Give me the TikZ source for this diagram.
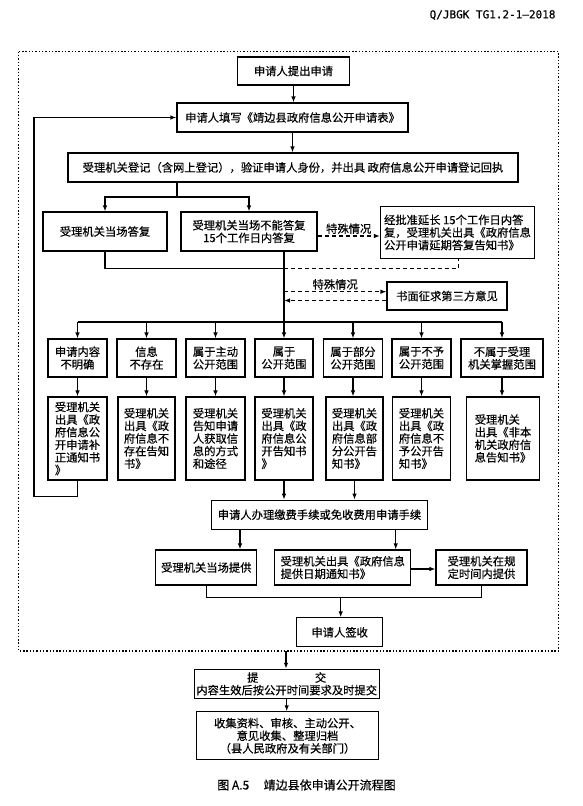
\documentclass[tikz,border=0pt]{standalone}
\usepackage{fontspec}
\setmainfont{Noto Sans CJK SC}
\newfontfamily\cjkb{Noto Sans CJK SC}[FakeBold=0.4]
\newfontfamily\hdrfont{DejaVu Sans Mono}[FakeBold=0.5]
\usetikzlibrary{arrows.meta}
\newcommand{\boxfont}{\cjkb\fontsize{11.3}{12.6}\selectfont}
\tikzset{
  bx/.style={draw,line width=1.1pt,inner sep=2pt,align=center,font=\boxfont},
  lbx/.style={bx,align=left},
  ln/.style={line width=1.1pt},
  dsh/.style={line width=1.1pt,dash pattern=on 4pt off 3pt},
  frm/.style={line width=1.4pt,dash pattern=on 1.4pt off 1.9pt},
  lbl/.style={font=\boxfont,inner sep=1.5pt}
}

\begin{document}
\begin{tikzpicture}[x=1pt,y=-1pt,>={Latex[length=6pt,width=4.5pt]}]
\useasboundingbox (0,0) rectangle (582,806);
\node[anchor=east,font=\hdrfont\fontsize{11}{13}\selectfont] (hdr) at (559,15) {Q/JBGK TG1.2-1—2018};
\coordinate (fr1) at (18.6,51.7);
\coordinate (fr2) at (558.6,651);
\draw[frm] (fr1) rectangle (fr2);
\node[bx,minimum width=112pt,minimum height=28pt] (apply) at (293.5,71) {申请人提出申请};
\node[bx,minimum width=231pt,minimum height=29pt] (form) at (292.5,117.5) {申请人填写《靖边县政府信息公开申请表》};
\node[bx,minimum width=450pt,minimum height=29pt] (reg) at (293,167.5) {受理机关登记（含网上登记），验证申请人身份，并出具 政府信息公开申请登记回执};
\node[bx,minimum width=124pt,minimum height=39pt] (now) at (105,231.5) {受理机关当场答复};
\node[bx,minimum width=136pt,minimum height=39pt] (later) at (249,231.5) {受理机关当场不能答复\\15个工作日内答复};
\node[lbx,minimum width=154pt,minimum height=52pt] (ext) at (457.5,232.5) {经批准延长 15个工作日内答\\复，受理机关出具《政府信息\\公开申请延期答复告知书》};
\node[bx,minimum width=120pt,minimum height=28pt] (third) at (447,296) {书面征求第三方意见};
\foreach \i/\x/\w/\t in {1/77.5/59/{申请内容\\不明确},2/146.5/59/{信息\\不存在},3/215.5/59/{属于主动\\公开范围},4/284/58/{属于\\公开范围},5/353/59/{属于部分\\公开范围},6/421.5/59/{属于不予\\公开范围},7/502/82/{不属于受理\\机关掌握范围}}{\node[bx,minimum width=\w pt,minimum height=38pt] (k\i) at (\x,358) {\t};}
\foreach \i/\x/\w/\t in {1/77.5/59/{受理机关\\出具《政\\府信息公\\开申请补\\正通知书\\》},2/146.5/57/{受理机关\\出具《政\\府信息不\\存在告知\\书》},3/215.5/59/{受理机关\\告知申请\\人获取信\\息的方式\\和途径},4/284/58/{受理机关\\出具《政\\府信息公\\开告知书\\》},5/354.5/57/{受理机关\\出具《政\\府信息部\\分公开告\\知书》},6/421.5/58/{受理机关\\出具《政\\府信息不\\予公开告\\知书》},7/503/73/{受理机关\\出具《非本\\机关政府信\\息告知书》}}{\node[lbx,minimum width=\w pt,minimum height=83pt] (r\i) at (\x,438.5) {\t};}
\node[bx,minimum width=216pt,minimum height=29pt] (fee) at (319.5,514.7) {申请人办理缴费手续或免收费用申请手续};
\node[bx,minimum width=101pt,minimum height=35pt] (onsite) at (206.3,567.5) {受理机关当场提供};
\node[lbx,minimum width=136pt,minimum height=35pt] (notice) at (342.8,567.5) {受理机关出具《政府信息\\提供日期通知书》};
\node[bx,minimum width=91pt,minimum height=35pt] (timely) at (481.5,567.5) {受理机关在规\\定时间内提供};
\node[bx,minimum width=86pt,minimum height=29pt] (sign) at (339.7,632.3) {申请人签收};
\node[bx,minimum width=183pt,minimum height=29pt] (submit) at (286.7,683.8) {提\hspace{5em}交\\内容生效后按公开时间要求及时提交};
\node[bx,minimum width=182pt,minimum height=48pt] (final) at (287.5,735.8) {收集资料、审核、主动公开、\\意见收集、整理归档\\（县人民政府及有关部门）};
\node[font=\cjkb\fontsize{12}{14}\selectfont] (cap) at (306.5,785) {图 A.5\hspace{1.2em}靖边县依申请公开流程图};
\draw[ln,->] (apply.south) -- (apply.south |- form.north);
\draw[ln,->] (form.south) -- (form.south |- reg.north);
\coordinate (b1) at (177,197);
\draw[ln] (reg.south -| b1) -- (b1);
\draw[ln,->] (b1) -| (now.north);
\draw[ln,->] (b1) -| (later.north);
\draw[dsh,->] ([yshift=-4.5pt]later.east) -- node[lbl,above] {特殊情况} ([yshift=-4.5pt]later.east -| ext.west);
\coordinate (m1) at (283.5,268.3);
\coordinate (m2) at (458.3,268.3);
\draw[ln] (now.south) |- (m1);
\draw[dsh] (m1) -- (m2) -- (m2 |- ext.south);
\coordinate (bus) at (284,322);
\draw[ln] (later.south -| bus) -- (bus);
\draw[dsh,->] ([yshift=4.3pt]third.west -| bus) -- node[lbl,above] {特殊情况} ([yshift=4.3pt]third.west);
\draw[dsh,->] ([yshift=-4.5pt]third.west) -- ([yshift=-4.5pt]third.west -| bus);
\draw[ln] (k1.north |- bus) -- (k7.north |- bus);
\foreach \i in {1,...,7}{\draw[ln,->] (k\i.north |- bus) -- (k\i.north);
\draw[ln,->] (k\i.south) -- (k\i.south |- r\i.north);}
\coordinate (lp) at (34,496.7);
\draw[ln,->] (r1.south) |- (lp) |- (form.west);
\draw[ln,->] (r4.south) -- (r4.south |- fee.north);
\draw[ln,->] (r5.south) -- (r5.south |- fee.north);
\draw[ln,->] ([xshift=-79.5pt]fee.south) -- ([xshift=-79.5pt]fee.south |- onsite.north);
\draw[ln,->] ([xshift=76.2pt]fee.south) -- ([xshift=76.2pt]fee.south |- notice.north);
\draw[ln,->] ([yshift=-1.5pt]notice.east) -- ([yshift=-1.5pt]notice.east -| timely.west);
\coordinate (mg) at (340.7,597.7);
\draw[ln] (onsite.south) |- (mg) -| (timely.south);
\draw[ln,->] (mg) -- (mg |- sign.north);
\coordinate (out) at (286,651);
\draw[ln,->] (out) -- (out |- submit.north);
\draw[ln,->] (submit.south) -- (submit.south |- final.north);
\end{tikzpicture}
\end{document}
